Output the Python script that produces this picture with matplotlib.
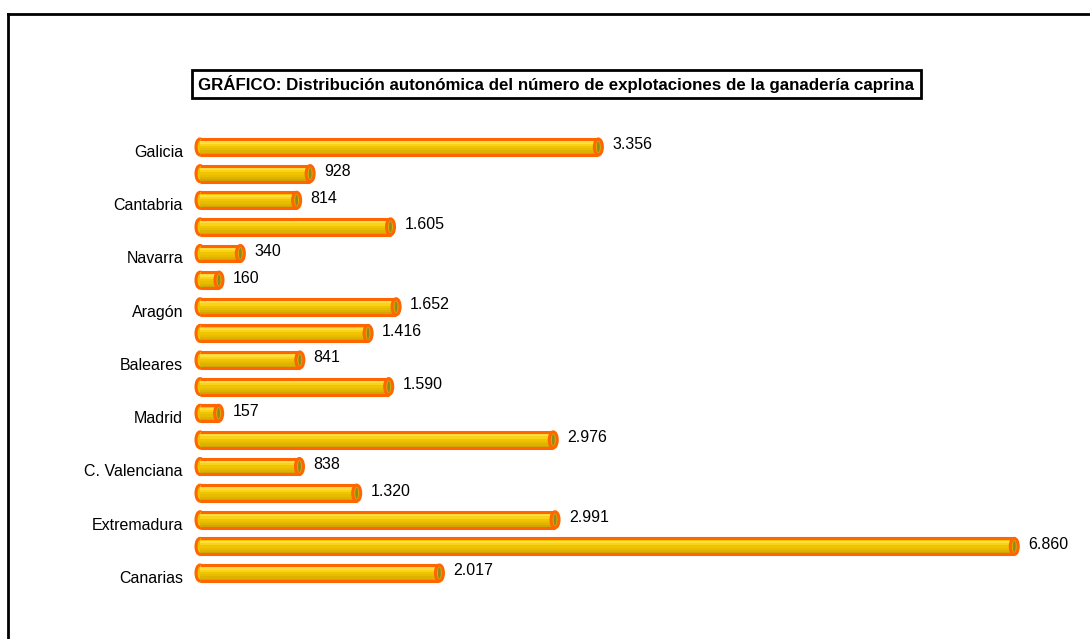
import matplotlib
matplotlib.use('Agg')
import matplotlib.pyplot as plt
import matplotlib.patches as patches
from matplotlib.lines import Line2D

plt.rcParams['font.family'] = ['Liberation Sans', 'DejaVu Sans']

# === Data ===
regions = ['Galicia', 'Asturias', 'Cantabria', 'País Vasco', 'Navarra', 'La Rioja',
           'Aragón', 'Cataluña', 'Baleares', 'Castilla y León', 'Madrid',
           'Castilla-La Mancha', 'C. Valenciana', 'Murcia', 'Extremadura',
           'Andalucía', 'Canarias']
farms = [3356, 928, 814, 1605, 340, 160, 1652, 1416, 841, 1590, 157, 2976,
         838, 1320, 2991, 6860, 2017]
title = 'GRÁFICO: Distribución autonómica del número de explotaciones de la ganadería caprina'

W, H = 1090, 639
fig = plt.figure(figsize=(W / 100, H / 100), dpi=100)

# axes placed in pixel terms: value 0 at x=200, rows from y=147 to y=573
px_per_unit = 0.1187
ax_left, ax_right = 200, 1050
row_step = (573 - 147) / 16
ax_top = 147 - row_step / 2
ax_bot = 573 + row_step / 2
ax = fig.add_axes([ax_left / W, 1 - ax_bot / H, (ax_right - ax_left) / W, (ax_bot - ax_top) / H])
ax.set_xlim(0, (ax_right - ax_left) / px_per_unit)
ax.set_ylim(len(regions) - 0.5, -0.5)
ax.axis('off')

ypos = list(range(len(regions)))
bar_h = 0.6
cap_w = 8 / px_per_unit   # ellipse width in data units (~8 px)
orange = '#FF6600'

# gradient body: stacked thin stripes, top to bottom
stripes = ['#F5C800', '#FFE040', '#FAD21A', '#F0C400', '#E8BC00', '#DFB200', '#D2A600']
sh = bar_h / len(stripes)
for k, c in enumerate(stripes):
    off = -bar_h / 2 + sh * (k + 0.5)
    ax.barh([y + off for y in ypos], farms, height=sh, color=c, edgecolor='none', zorder=3)

for y, v in zip(ypos, farms):
    # left rounded end (behind body)
    ax.add_patch(patches.Ellipse((0, y), cap_w, bar_h, fc='#EFC200', ec=orange, lw=2.2,
                                 zorder=2, clip_on=False))
    # top and bottom edges
    ax.plot([0, v], [y - bar_h / 2, y - bar_h / 2], color=orange, lw=2.2, zorder=4,
            solid_capstyle='butt')
    ax.plot([0, v], [y + bar_h / 2, y + bar_h / 2], color=orange, lw=2.2, zorder=4,
            solid_capstyle='butt')
    # right end cap
    ax.add_patch(patches.Ellipse((v, y), cap_w, bar_h, fc='#D8AE00', ec=orange, lw=2.2,
                                 zorder=5, clip_on=False))
    ax.add_patch(patches.Ellipse((v, y), cap_w * 0.35, bar_h * 0.7, fc='#8C8A20', ec='none',
                                 zorder=6, clip_on=False))
    # value label
    lbl = f'{v:,}'.replace(',', '.')
    ax.annotate(lbl, xy=(v, y), xytext=(10, 1.5), textcoords='offset points',
                ha='left', va='center', fontsize=11.5, color='black', zorder=7,
                annotation_clip=False)

# category labels (every other one, as in the original)
for i, (y, name) in enumerate(zip(ypos, regions)):
    if i % 2 == 0:
        ax.text(-17 / px_per_unit, y + 0.2, name, ha='right', va='center', fontsize=11.5,
                clip_on=False)

# title box
bx0, by0, bx1, by1 = 192, 70, 921, 98
fig.patches.append(patches.Rectangle((bx0 / W, 1 - by1 / H), (bx1 - bx0) / W, (by1 - by0) / H,
                                     transform=fig.transFigure, fill=False, ec='black', lw=2))
fig.text((bx0 + bx1) / 2 / W, 1 - (by0 + by1) / 2 / H, title, ha='center', va='center',
         fontsize=12.2, fontweight='bold')

# outer frame (left and top lines)
fig.add_artist(Line2D([8 / W, 8 / W], [0, 1 - 14 / H], transform=fig.transFigure, color='black', lw=2))
fig.add_artist(Line2D([8 / W, 1], [1 - 14 / H, 1 - 14 / H], transform=fig.transFigure, color='black', lw=2))

fig.savefig('out.png', dpi=100, facecolor='white')
